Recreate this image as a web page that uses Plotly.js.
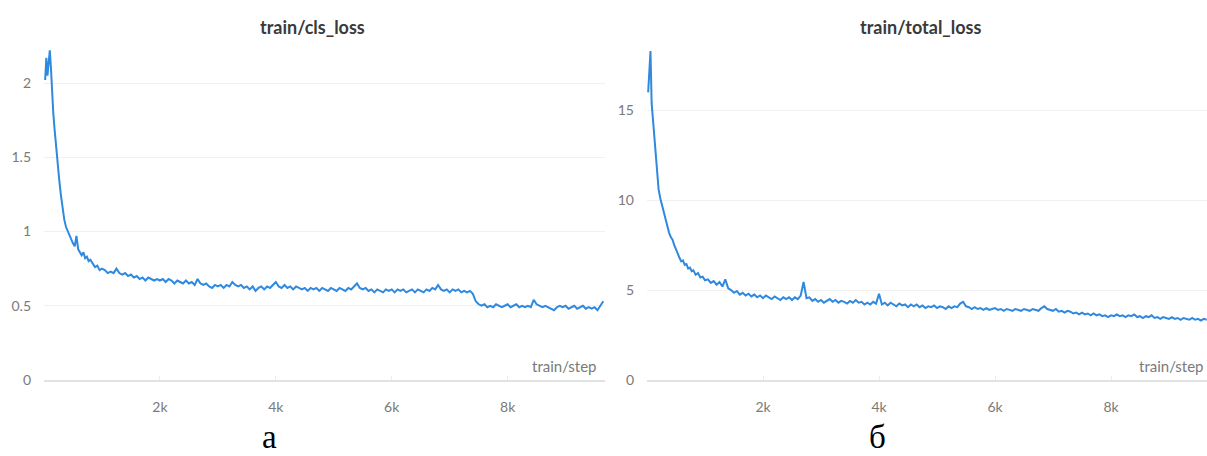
<!DOCTYPE html>
<html>
<head>
<meta charset="utf-8">
<script src="https://cdn.plot.ly/plotly-3.0.1.min.js"></script>
<style>html,body{margin:0;padding:0;background:#fff;}#chart{width:1207px;height:456px;}</style>
</head>
<body>
<div id="chart"></div>
<script>
// training steps (shared by both runs)
const steps = [20,40,60,80,100,120,140,160,180,200,230,260,290,320,350,380,410,440,470,500,
530,560,590,620,650,680,710,740,770,800,840,880,920,960,1000,
1050,1100,1150,1200,1250,1300,1350,1400,1450,1500,1550,1600,1650,1700,1750,1800,1850,1900,1950,2000,
2050,2100,2150,2200,2250,2300,2350,2400,2450,2500,2550,2600,2650,2700,2750,2800,2850,2900,2950,3000,
3050,3100,3150,3200,3250,3300,3350,3400,3450,3500,3550,3600,3650,3700,3750,3800,3850,3900,3950,4000,
4050,4100,4150,4200,4250,4300,4350,4400,4450,4500,4550,4600,4650,4700,4750,4800,4850,4900,4950,5000,
5050,5100,5150,5200,5250,5300,5350,5400,5450,5500,5550,5600,5650,5700,5750,5800,5850,5900,5950,6000,
6050,6100,6150,6200,6250,6300,6350,6400,6450,6500,6550,6600,6650,6700,6750,6800,6850,6900,6950,7000,
7050,7100,7150,7200,7250,7300,7350,7400,7450,7500,7550,7600,7650,7700,7750,7800,7850,7900,7950,8000,
8050,8100,8150,8200,8250,8300,8350,8400,8450,8500,8550,8600,8650,8700,8750,8800,8850,8900,8950,9000,
9050,9100,9150,9200,9250,9300,9350,9400,9450,9500,9550,9600,9650];

// train/cls_loss
const clsLoss = [2.02,2.17,2.05,2.14,2.22,2.10,1.92,1.80,1.70,1.60,1.47,1.36,1.25,1.15,1.08,1.03,1.00,0.97,0.94,0.92,
0.90,0.97,0.88,0.86,0.84,0.86,0.82,0.83,0.80,0.81,0.78,0.76,0.77,0.74,0.75,
0.74,0.72,0.73,0.72,0.75,0.72,0.71,0.72,0.70,0.71,0.69,0.70,0.68,0.69,0.67,0.69,0.68,0.67,0.68,0.67,
0.68,0.66,0.68,0.67,0.65,0.67,0.66,0.65,0.67,0.65,0.66,0.64,0.68,0.65,0.64,0.65,0.63,0.62,0.64,0.63,
0.64,0.62,0.64,0.63,0.66,0.64,0.63,0.64,0.62,0.63,0.61,0.63,0.60,0.62,0.63,0.61,0.63,0.62,0.64,0.66,
0.63,0.62,0.64,0.62,0.63,0.61,0.63,0.62,0.61,0.62,0.60,0.62,0.61,0.62,0.60,0.62,0.61,0.60,0.62,0.61,
0.60,0.62,0.61,0.60,0.62,0.61,0.63,0.65,0.62,0.61,0.62,0.60,0.61,0.59,0.61,0.60,0.59,0.61,0.60,0.61,
0.59,0.61,0.60,0.61,0.59,0.60,0.61,0.59,0.61,0.60,0.59,0.61,0.60,0.62,0.61,0.64,0.61,0.60,0.61,0.59,
0.61,0.60,0.61,0.59,0.60,0.59,0.60,0.58,0.53,0.51,0.50,0.51,0.49,0.50,0.49,0.51,0.50,0.49,0.50,0.51,
0.49,0.50,0.51,0.49,0.50,0.49,0.50,0.49,0.54,0.51,0.50,0.49,0.50,0.49,0.48,0.47,0.49,0.50,0.49,0.50,
0.48,0.49,0.50,0.48,0.49,0.50,0.48,0.49,0.48,0.49,0.47,0.50,0.53];

// train/total_loss
const totalLoss = [16.0,17.0,18.3,15.4,14.6,13.8,12.9,12.0,11.2,10.6,10.1,9.7,9.3,8.9,8.5,8.2,7.95,7.8,7.5,7.25,
6.95,6.8,6.6,6.65,6.4,6.45,6.2,6.25,6.05,6.1,5.85,5.95,5.7,5.75,5.55,
5.6,5.4,5.5,5.3,5.45,5.2,5.6,5.1,5.0,4.85,4.95,4.75,4.85,4.7,4.8,4.65,4.75,4.6,4.7,4.55,
4.7,4.6,4.5,4.65,4.55,4.45,4.6,4.5,4.6,4.45,4.6,4.5,4.7,5.45,4.55,4.6,4.4,4.5,4.35,4.45,
4.3,4.4,4.5,4.35,4.45,4.3,4.4,4.35,4.25,4.4,4.3,4.45,4.3,4.35,4.2,4.3,4.2,4.35,4.25,4.8,
4.2,4.3,4.15,4.3,4.2,4.1,4.25,4.15,4.2,4.05,4.2,4.1,4.2,4.05,4.15,4.0,4.1,4.05,4.15,4.0,
4.1,4.05,3.95,4.1,4.0,4.1,4.05,4.25,4.35,4.1,4.05,3.95,4.05,3.95,4.0,3.9,4.0,3.9,3.95,4.0,
3.9,3.95,3.85,3.95,3.9,3.85,3.95,3.9,3.85,3.95,3.9,3.85,3.95,3.9,3.85,4.0,4.1,3.95,3.9,3.85,
3.95,3.8,3.85,3.75,3.85,3.8,3.7,3.75,3.65,3.75,3.65,3.7,3.6,3.7,3.6,3.65,3.55,3.6,3.5,3.6,
3.55,3.65,3.55,3.6,3.5,3.6,3.55,3.65,3.5,3.55,3.45,3.55,3.5,3.6,3.45,3.5,3.4,3.5,3.45,3.4,
3.5,3.4,3.45,3.35,3.45,3.4,3.35,3.45,3.35,3.4,3.3,3.4,3.35];

const xTickVals = [2000,4000,6000,8000];
const xTickText = ['2k','4k','6k','8k'];
const clsTickVals = [0,0.5,1,1.5,2];
const clsTickText = ['0','0.5','1','1.5','2'];
const totalTickVals = [0,5,10,15];
const totalTickText = ['0','5','10','15'];
const titles = ['train/cls_loss','train/total_loss'];
const xLabel = 'train/step';
const panelLabels = ['а','б'];

const W = 1207, H = 456;
const px = v => v / W;
const py = v => (H - v) / H;
const lineColor = '#2e89df';
const tickFont = {family: 'Lato, "Noto Sans", sans-serif', size: 14, color: '#7a7a7a'};

const xCommon = {
  tickvals: xTickVals, ticktext: xTickText, tickfont: tickFont,
  showgrid: false, zeroline: false, showline: true, linecolor: '#e2e2e2', linewidth: 2,
  ticks: 'inside', ticklen: 4, tickcolor: '#ececec', ticklabelstandoff: 13, fixedrange: true
};
const yCommon = {
  tickfont: tickFont, showgrid: true, gridcolor: '#f1f1f1', gridwidth: 1,
  zeroline: false, showline: false, ticks: '', ticklabelstandoff: 12, fixedrange: true
};

const traces = [
  {x: steps, y: clsLoss, type: 'scatter', mode: 'lines', line: {color: lineColor, width: 2}, xaxis: 'x', yaxis: 'y', hoverinfo: 'skip'},
  {x: steps, y: totalLoss, type: 'scatter', mode: 'lines', line: {color: lineColor, width: 2}, xaxis: 'x2', yaxis: 'y2', hoverinfo: 'skip'}
];

const titleFont = {family: 'Lato, "Noto Sans", sans-serif', size: 18, color: '#3a3a3a', weight: 700};
const stepFont = {family: 'Lato, "Noto Sans", sans-serif', size: 15, color: '#7a7a7a'};
const letterFont = {family: '"Liberation Serif", "DejaVu Serif", serif', size: 33, color: '#000'};

const layout = {
  width: W, height: H, margin: {l: 0, r: 0, t: 0, b: 0},
  paper_bgcolor: '#fff', plot_bgcolor: '#fff', showlegend: false,
  xaxis: Object.assign({}, xCommon, {domain: [px(44), px(605)], range: [0, 9680], anchor: 'y'}),
  yaxis: Object.assign({}, yCommon, {domain: [py(380), py(38.45)], range: [0, 2.3], tickvals: clsTickVals, ticktext: clsTickText, anchor: 'x'}),
  xaxis2: Object.assign({}, xCommon, {domain: [px(647), 1], range: [0, 9655], anchor: 'y2'}),
  yaxis2: Object.assign({}, yCommon, {domain: [py(380), py(38.45)], range: [0, 19], tickvals: totalTickVals, ticktext: totalTickText, anchor: 'x2'}),
  annotations: [
    {text: titles[0], xref: 'paper', yref: 'paper', x: px(312), y: py(27), xanchor: 'center', yanchor: 'middle', showarrow: false, font: titleFont},
    {text: titles[1], xref: 'paper', yref: 'paper', x: px(920), y: py(27), xanchor: 'center', yanchor: 'middle', showarrow: false, font: titleFont},
    {text: xLabel, xref: 'paper', yref: 'paper', x: px(599), y: py(366), xanchor: 'right', yanchor: 'middle', showarrow: false, font: stepFont},
    {text: xLabel, xref: 'paper', yref: 'paper', x: px(1206), y: py(366), xanchor: 'right', yanchor: 'middle', showarrow: false, font: stepFont},
    {text: panelLabels[0], xref: 'paper', yref: 'paper', x: px(269), y: 0, xanchor: 'center', yanchor: 'bottom', showarrow: false, font: letterFont, borderpad: 0},
    {text: panelLabels[1], xref: 'paper', yref: 'paper', x: px(877), y: 0, xanchor: 'center', yanchor: 'bottom', showarrow: false, font: letterFont, borderpad: 0}
  ]
};

Plotly.newPlot('chart', traces, layout, {staticPlot: true, displayModeBar: false});
</script>
</body>
</html>
